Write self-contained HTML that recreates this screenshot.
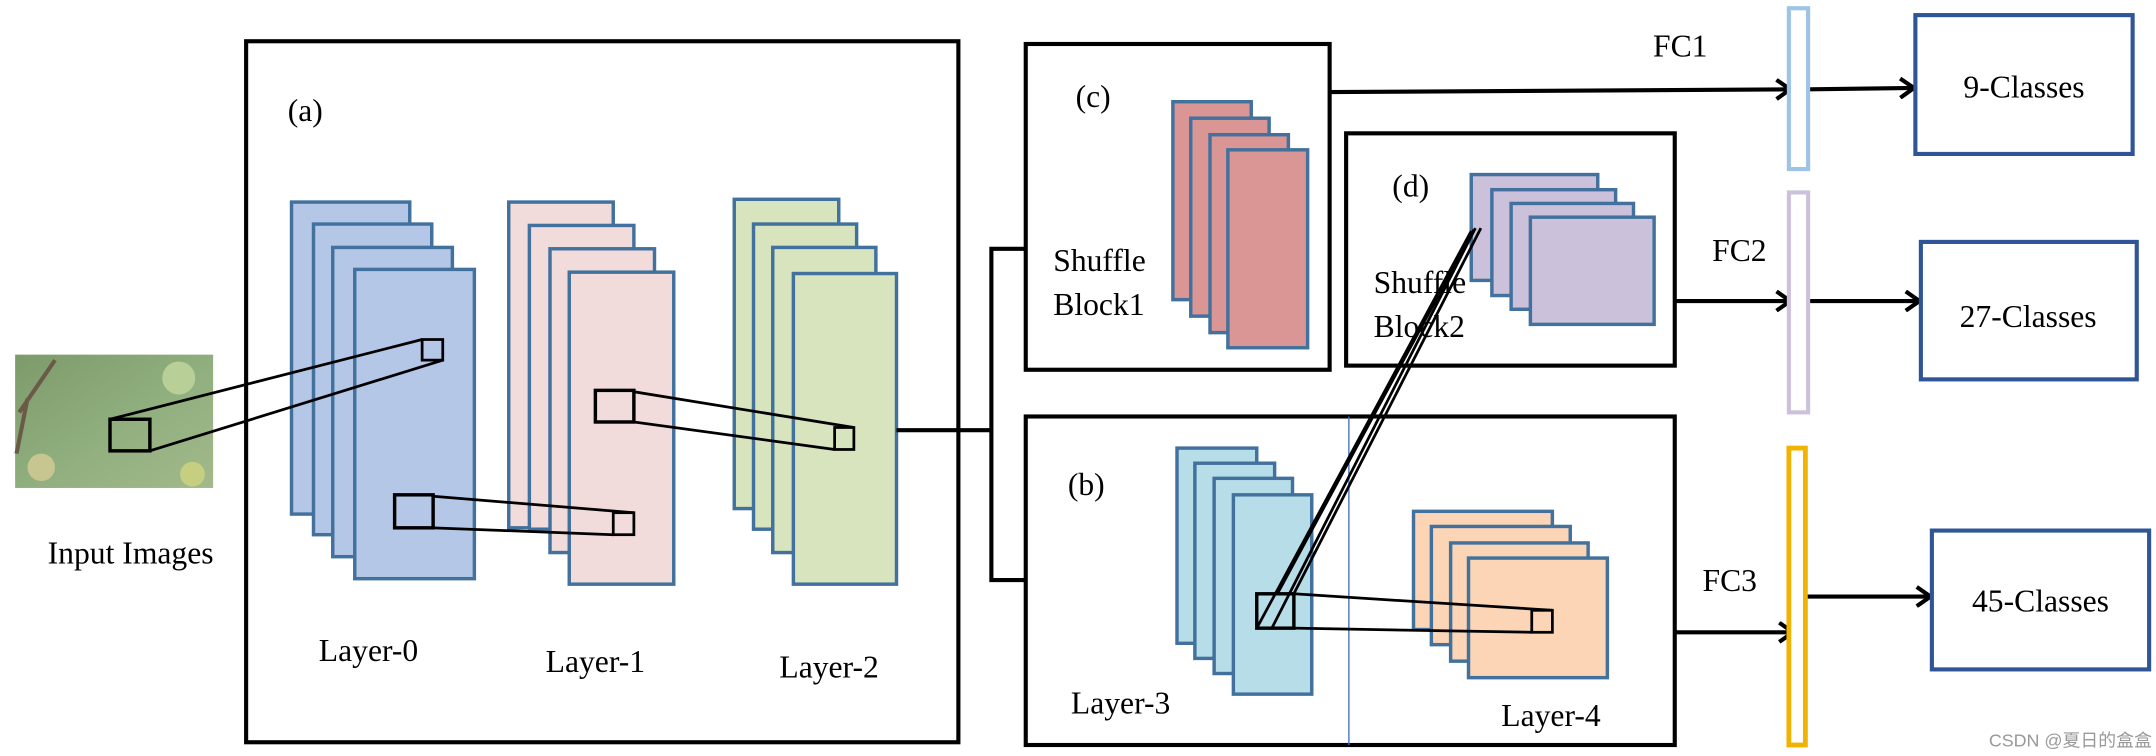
<!DOCTYPE html>
<html><head><meta charset="utf-8"><style>html,body{margin:0;padding:0;background:#fff;}svg{display:block}.t{font-family:"Liberation Serif",serif}</style></head><body>
<svg width="2156" height="756" viewBox="0 0 1568 550" preserveAspectRatio="none" xmlns="http://www.w3.org/2000/svg">
<defs>
<marker id="ar" markerWidth="14" markerHeight="16" refX="11" refY="8" orient="auto" markerUnits="userSpaceOnUse"><path d="M2,1 L12,8 L2,15" fill="none" stroke="#000" stroke-width="3"/></marker>
<linearGradient id="leaf" x1="0" y1="0" x2="1" y2="1"><stop offset="0" stop-color="#7d9a6a"/><stop offset="0.5" stop-color="#8fae7e"/><stop offset="1" stop-color="#a3b98a"/></linearGradient>
</defs>
<g fill="none" stroke="#000" stroke-width="3">
<rect x="179" y="30" width="518" height="510"/>
<rect x="746" y="32" width="221" height="237"/>
<rect x="979" y="97" width="239" height="169"/>
<rect x="746" y="303" width="472" height="239"/>
</g>
<line x1="981" y1="303" x2="981" y2="542" stroke="#4472c4" stroke-width="1"/>
<rect x="11" y="258" width="144" height="97" fill="url(#leaf)"/>
<path d="M14,300 L40,262 M20,290 L12,330" stroke="#6b5a48" stroke-width="3" fill="none"/>
<circle cx="130" cy="275" r="12" fill="#b8cf98"/><circle cx="30" cy="340" r="10" fill="#c8c690"/><circle cx="140" cy="345" r="9" fill="#c6cf80"/>
<g class="t" font-size="23" fill="#000">
<text x="95" y="410" text-anchor="middle">Input Images</text>
<text x="222" y="88" text-anchor="middle">(a)</text>
</g>
<g stroke="#41719c" stroke-width="2.5">
<rect x="212" y="147" width="86" height="227" fill="#b4c7e7"/>
<rect x="228" y="163" width="86" height="226" fill="#b4c7e7"/>
<rect x="242" y="180" width="87" height="225" fill="#b4c7e7"/>
<rect x="258" y="196" width="87" height="225" fill="#b4c7e7"/>
<rect x="370" y="147" width="76" height="237" fill="#f2dcdb"/>
<rect x="385" y="164" width="76" height="221" fill="#f2dcdb"/>
<rect x="400" y="181" width="76" height="221" fill="#f2dcdb"/>
<rect x="414" y="198" width="76" height="227" fill="#f2dcdb"/>
<rect x="534" y="145" width="76" height="225" fill="#d7e4bd"/>
<rect x="548" y="163" width="75" height="222" fill="#d7e4bd"/>
<rect x="562" y="180" width="75" height="222" fill="#d7e4bd"/>
<rect x="577" y="199" width="75" height="226" fill="#d7e4bd"/>
<rect x="853" y="74" width="57" height="144" fill="#d99694"/>
<rect x="866" y="86" width="57" height="144" fill="#d99694"/>
<rect x="880" y="98" width="57" height="144" fill="#d99694"/>
<rect x="893" y="109" width="58" height="144" fill="#d99694"/>
<rect x="1070" y="127" width="92" height="77" fill="#ccc1da"/>
<rect x="1085" y="138" width="90" height="77" fill="#ccc1da"/>
<rect x="1099" y="148" width="89" height="77" fill="#ccc1da"/>
<rect x="1113" y="158" width="90" height="78" fill="#ccc1da"/>
<rect x="856" y="326" width="58" height="142" fill="#b7dee8"/>
<rect x="869" y="337" width="58" height="142" fill="#b7dee8"/>
<rect x="883" y="348" width="57" height="142" fill="#b7dee8"/>
<rect x="897" y="360" width="57" height="145" fill="#b7dee8"/>
<rect x="1028" y="372" width="101" height="86" fill="#fbd5b5"/>
<rect x="1041" y="383" width="101" height="86" fill="#fbd5b5"/>
<rect x="1055" y="395" width="100" height="86" fill="#fbd5b5"/>
<rect x="1068" y="406" width="101" height="87" fill="#fbd5b5"/>
</g>
<g fill="none" stroke="#000" stroke-width="2">
<rect x="80" y="305" width="29" height="23" stroke-width="2.5"/>
<rect x="307" y="247" width="15" height="15"/>
<line x1="80" y1="305" x2="307" y2="247"/><line x1="109" y1="328" x2="322" y2="262"/>
<rect x="287" y="360" width="28" height="24" stroke-width="2.5"/>
<rect x="446" y="373" width="15" height="16"/>
<line x1="315" y1="361" x2="461" y2="373"/><line x1="315" y1="384" x2="446" y2="389"/>
<rect x="433" y="284" width="28" height="23" stroke-width="2.5"/>
<rect x="607" y="311" width="14" height="16"/>
<line x1="461" y1="285" x2="621" y2="311"/><line x1="461" y1="307" x2="607" y2="327"/>
<rect x="914" y="432" width="27" height="25" stroke-width="2.5"/>
<rect x="1114" y="444" width="15" height="16"/>
<line x1="941" y1="432" x2="1129" y2="444"/><line x1="941" y1="457" x2="1114" y2="460"/>
<line x1="914" y1="457" x2="1070" y2="168"/><line x1="925" y1="457" x2="1073" y2="166"/><line x1="941" y1="432" x2="1077" y2="166"/><line x1="929" y1="432" x2="1072" y2="167"/>
</g>
<g fill="none" stroke="#000" stroke-width="3">
<path d="M652,313 H721 M746,181 H721 V422 H746"/>
<line x1="967" y1="67" x2="1301" y2="65" marker-end="url(#ar)"/>
<line x1="1316" y1="65" x2="1391" y2="64" marker-end="url(#ar)"/>
<line x1="1218" y1="219" x2="1301" y2="219" marker-end="url(#ar)"/>
<line x1="1316" y1="219" x2="1395" y2="219" marker-end="url(#ar)"/>
<line x1="1218" y1="460" x2="1303" y2="460" marker-end="url(#ar)"/>
<line x1="1314" y1="434" x2="1403" y2="434" marker-end="url(#ar)"/>
</g>
<rect x="1301" y="6" width="14" height="117" fill="#fff" stroke="#9dc3e6" stroke-width="3"/>
<rect x="1301" y="140" width="14" height="160" fill="#fff" stroke="#ccc1da" stroke-width="3"/>
<rect x="1301" y="326" width="12" height="216" fill="#fff" stroke="#f0b400" stroke-width="3.5"/>
<g fill="#fff" stroke="#2f5597" stroke-width="3">
<rect x="1393" y="11" width="158" height="101"/>
<rect x="1397" y="176" width="157" height="100"/>
<rect x="1405" y="386" width="158" height="101"/>
</g>
<g class="t" font-size="23" fill="#000">
<text x="1472" y="71" text-anchor="middle">9-Classes</text>
<text x="1475" y="238" text-anchor="middle">27-Classes</text>
<text x="1484" y="445" text-anchor="middle">45-Classes</text>
<text x="1222" y="41" text-anchor="middle">FC1</text>
<text x="1265" y="190" text-anchor="middle">FC2</text>
<text x="1258" y="430" text-anchor="middle">FC3</text>
<text x="795" y="78" text-anchor="middle">(c)</text>
<text x="1026" y="143" text-anchor="middle">(d)</text>
<text x="790" y="360" text-anchor="middle">(b)</text>
<text x="766" y="197">Shuffle</text>
<text x="766" y="229">Block1</text>
<text x="999" y="213">Shuffle</text>
<text x="999" y="245">Block2</text>
<text x="815" y="519" text-anchor="middle">Layer-3</text>
<text x="1128" y="528" text-anchor="middle">Layer-4</text>
<text x="268" y="481" text-anchor="middle">Layer-0</text>
<text x="433" y="489" text-anchor="middle">Layer-1</text>
<text x="603" y="493" text-anchor="middle">Layer-2</text>
</g>
<text x="1565" y="543" font-size="13" fill="#999" text-anchor="end" font-family="Liberation Sans, Noto Sans CJK SC, sans-serif">CSDN @夏日的盒盒</text>
</svg>
</body></html>
